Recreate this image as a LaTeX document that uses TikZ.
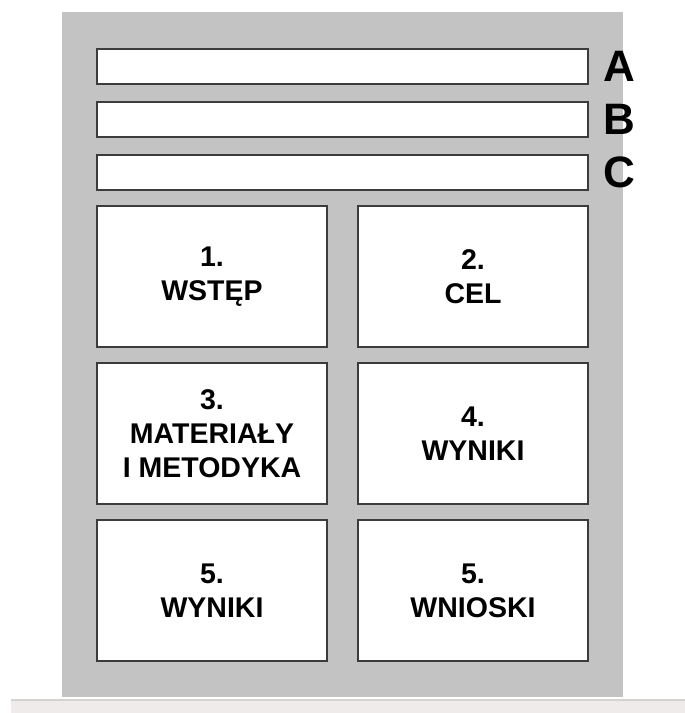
\documentclass[tikz,border=0pt]{standalone}
\usepackage{fontspec}
\setmainfont{Liberation Sans}
\usepackage{tikz}
\usetikzlibrary{positioning}
\definecolor{panelgray}{HTML}{C3C3C3}
\definecolor{boxline}{HTML}{3C3C3C}
\definecolor{bandgray}{HTML}{EFEBEA}
\definecolor{bandline}{HTML}{D5D3D2}

\begin{document}
\begin{tikzpicture}[x=1pt, y=-1pt,
    strip/.style={draw=boxline, line width=1.5pt, fill=white, inner sep=0pt, outer sep=0pt, minimum width=491pt, minimum height=35pt},
    section/.style={draw=boxline, line width=1.5pt, fill=white, inner sep=0pt, outer sep=0pt, minimum width=230pt, minimum height=141pt, align=center, font=\fontsize{28.5}{34}\selectfont\bfseries},
    tag/.style={inner sep=0pt, outer sep=0pt, font=\fontsize{44}{50}\selectfont\bfseries}]
    \useasboundingbox (0,0) rectangle (685,713);
    \fill[panelgray] (62,12) rectangle (623,697);
    \fill[bandgray] (11,699) rectangle (685,713);
    \draw[bandline, line width=1.5pt] (11,700) -- (685,700);

    \node[strip, anchor=north west] (stripA) at (97,49) {};
    \node[strip, below=18pt of stripA] (stripB) {};
    \node[strip, below=18pt of stripB] (stripC) {};

    \node[tag, right=15pt of stripA] (tagA) {A};
    \node[tag, right=15pt of stripB] (tagB) {B};
    \node[tag, right=15pt of stripC] (tagC) {C};

    \node[section, below=16pt of stripC.south west, anchor=north west] (intro) {1.\\WSTĘP};
    \node[section, right=31pt of intro] (aim) {2.\\CEL};
    \node[section, below=16pt of intro] (methods) {3.\\MATERIAŁY\\I METODYKA};
    \node[section, below=16pt of aim] (results) {4.\\WYNIKI};
    \node[section, below=16pt of methods] (resultsb) {5.\\WYNIKI};
    \node[section, below=16pt of results] (conclusions) {5.\\WNIOSKI};
\end{tikzpicture}
\end{document}
